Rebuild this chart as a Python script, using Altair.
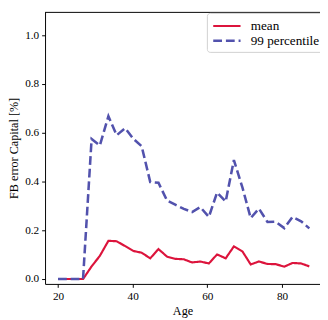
import altair as alt
import pandas as pd

ages = [20.0, 22.2, 24.5, 26.7, 29.0, 31.2, 33.5, 35.7, 38.0, 40.2, 42.4,
        44.7, 46.9, 49.2, 51.4, 53.7, 55.9, 58.1, 60.4, 62.6, 64.9, 67.1,
        69.4, 71.6, 73.8, 76.1, 78.3, 80.6, 82.8, 85.1, 87.3]

mean_vals = [0.0, 0.0, 0.0, 0.0, 0.052, 0.095, 0.157, 0.155, 0.135, 0.115, 0.108,
             0.085, 0.123, 0.092, 0.083, 0.081, 0.068, 0.072, 0.064, 0.101, 0.085,
             0.134, 0.113, 0.060, 0.072, 0.062, 0.061, 0.051, 0.066, 0.064, 0.052]

p99_vals = [0.0, 0.0, 0.0, 0.0, 0.575, 0.548, 0.668, 0.590, 0.619, 0.575, 0.545,
            0.398, 0.395, 0.322, 0.305, 0.288, 0.275, 0.295, 0.255, 0.355, 0.318,
            0.488, 0.375, 0.250, 0.289, 0.234, 0.235, 0.209, 0.255, 0.237, 0.208]

series_names = ["mean", "99 percentile"]

df = pd.DataFrame({
    "Age": ages * 2,
    "value": mean_vals + p99_vals,
    "series": [series_names[0]] * len(ages) + [series_names[1]] * len(ages),
})

W, H = 282, 279
FONT = "Liberation Serif"

color_scale = alt.Scale(domain=series_names, range=["#dc143c", "#5252ad"])
dash_scale = alt.Scale(domain=series_names, range=[[1, 0], [9, 4]])
width_scale = alt.Scale(domain=series_names, range=[2.2, 2.6])

legend = alt.Legend(
    title=None, orient="none", legendX=166, legendY=1,
    symbolType="M-1,0H3", symbolSize=196, symbolStrokeWidth=2.5,
    labelFont=FONT, labelFontSize=13.5, labelColor="black", labelOffset=23,
    rowPadding=0, padding=5, fillColor="white", strokeColor="#d0d0d0",
    cornerRadius=3,
)

base = alt.Chart(df).mark_line().encode(
    x=alt.X("Age:Q", scale=alt.Scale(domain=[16.53, 90.16], nice=False, zero=False),
            axis=alt.Axis(values=[20, 40, 60, 80], title="Age", grid=False,
                          format="d")),
    y=alt.Y("value:Q", scale=alt.Scale(domain=[-0.02, 1.096], nice=False, zero=False),
            axis=alt.Axis(values=[0, 0.2, 0.4, 0.6, 0.8, 1.0], format=".1f",
                          title="FB error Capital [%]", grid=False)),
    color=alt.Color("series:N", scale=color_scale, legend=legend),
    strokeDash=alt.StrokeDash("series:N", scale=dash_scale, legend=legend),
    strokeWidth=alt.StrokeWidth("series:N", scale=width_scale, legend=None),
)

mean_layer = base.transform_filter(alt.datum.series == "mean")
p99_layer = base.transform_filter(alt.datum.series == "99 percentile")

top_spine = alt.Chart(pd.DataFrame({"a": [0]})).mark_rule(
    color="black", strokeWidth=1
).encode(x=alt.value(0), x2=alt.value(W), y=alt.value(0.5))

chart = alt.layer(mean_layer, p99_layer, top_spine).properties(
    width=W, height=H,
    autosize=alt.AutoSizeParams(type="none"),
    padding={"left": 38, "top": 0, "right": 0, "bottom": 33},
).configure_view(stroke=None).configure_axis(
    labelFont=FONT, labelFontSize=11.5, labelColor="black",
    titleFont=FONT, titleFontSize=12.5, titleFontWeight="normal", titleColor="black",
    domainColor="black", domainWidth=1, tickColor="black", tickSize=3.5,
    labelPadding=3,
).configure_axisY(titlePadding=4).configure_axisX(titlePadding=3)

chart.save("out.html", embed_options={"renderer": "svg", "actions": False})
